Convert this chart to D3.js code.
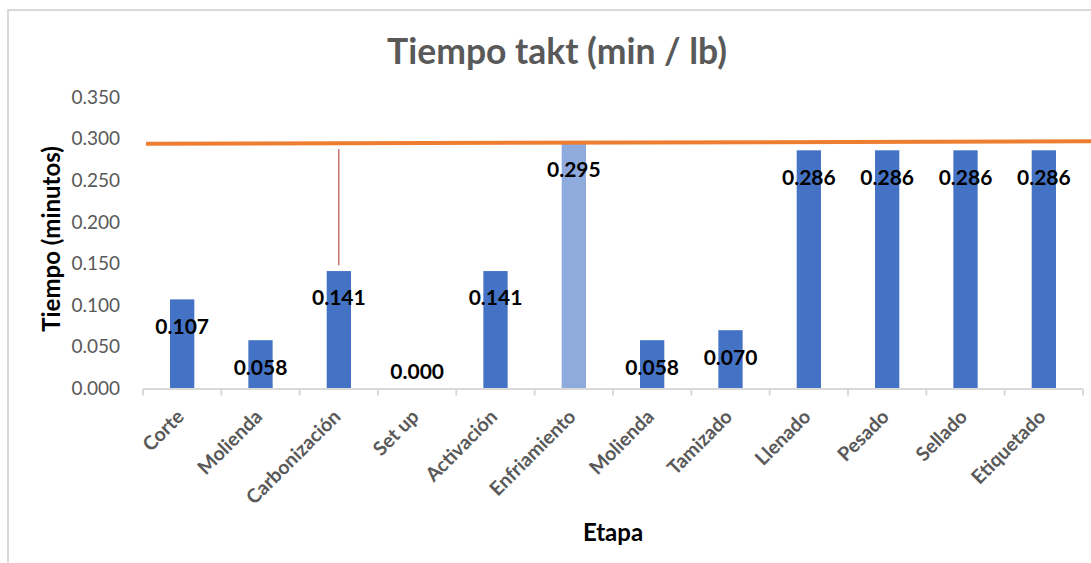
<!DOCTYPE html>
<html>
<head>
<meta charset="utf-8">
<script src="https://cdn.jsdelivr.net/npm/d3@7"></script>
<style>
  html, body { margin: 0; padding: 0; background: #ffffff; }
  svg { display: block; font-family: Lato, "Open Sans", sans-serif; }
</style>
</head>
<body>
<svg id="chart" width="1091" height="563"></svg>
<script>
// ---- data ----
const categories = ["Corte", "Molienda", "Carbonización", "Set up", "Activación", "Enfriamiento",
                    "Molienda", "Tamizado", "Llenado", "Pesado", "Sellado", "Etiquetado"];
const tiempos = [0.107, 0.058, 0.141, 0.000, 0.141, 0.295, 0.058, 0.070, 0.286, 0.286, 0.286, 0.286];
const yTicks = [0, 0.05, 0.10, 0.15, 0.20, 0.25, 0.30, 0.35];
const taktLine = [0.2938, 0.2968];          // takt line value at its left and right ends
const highlightIndex = 5;                    // Enfriamiento (bottleneck)
const markerIndex = 2;                       // thin vertical marker over Carbonización
const markerRange = [0.148, 0.2875];

const W = 1091, H = 563;
const svg = d3.select("#chart");

// frame
svg.append("path")
  .attr("d", `M8,${H} L8,10 L${W},10`)
  .attr("fill", "none").attr("stroke", "#d9d9d9").attr("stroke-width", 2);

const x = d3.scaleBand()
  .domain(d3.range(categories.length))
  .range([143, 1083])
  .paddingInner(0.69)
  .paddingOuter(0.345);

const y = d3.scaleLinear().domain([0, 0.35]).range([388.5, 97]);

// title
svg.append("text")
  .attr("x", 557).attr("y", 50)
  .attr("text-anchor", "middle").attr("dominant-baseline", "central")
  .attr("font-size", 35.5).attr("font-weight", 700).attr("fill", "#595959")
  .text("Tiempo takt (min / lb)");

// y axis labels
const yAxis = d3.axisLeft(y).tickValues(yTicks).tickFormat(d3.format(".3f")).tickSize(0).tickPadding(0);
const gy = svg.append("g").attr("transform", "translate(120,0)").call(yAxis);
gy.select(".domain").remove();
gy.selectAll("text").attr("font-size", 19).attr("fill", "#595959")
  .attr("font-family", "Lato, sans-serif");

// bars
svg.append("g").selectAll("rect")
  .data(tiempos)
  .join("rect")
  .attr("x", (d, i) => x(i))
  .attr("width", x.bandwidth())
  .attr("y", d => y(d))
  .attr("height", d => y(0) - y(d))
  .attr("fill", (d, i) => i === highlightIndex ? "#8faadc" : "#4472c4");

// x axis
const step = x.step();
const boundaries = d3.range(categories.length + 1).map(i => 143 + i * step);
const gx = svg.append("g");
gx.append("line")
  .attr("x1", 143).attr("x2", 1083).attr("y1", y(0) + 0.5).attr("y2", y(0) + 0.5)
  .attr("stroke", "#d9d9d9").attr("stroke-width", 2);
gx.selectAll("line.tick")
  .data(boundaries)
  .join("line").attr("class", "tick")
  .attr("x1", d => d).attr("x2", d => d)
  .attr("y1", y(0) + 0.5).attr("y2", y(0) + 7)
  .attr("stroke", "#d9d9d9").attr("stroke-width", 2);

gx.selectAll("text")
  .data(categories)
  .join("text")
  .attr("transform", (d, i) => `translate(${x(i) + x.bandwidth() / 2 + 3},418) rotate(-45)`)
  .attr("text-anchor", "end")
  .attr("font-size", 19.5).attr("font-weight", 700).attr("fill", "#595959")
  .text(d => d);

// takt line
const lx = d3.scaleLinear().domain([0, 1]).range([146, W]);
svg.append("path")
  .datum(taktLine)
  .attr("d", d3.line().x((d, i) => lx(i)).y(d => y(d)))
  .attr("stroke", "#ed7d31").attr("stroke-width", 4).attr("fill", "none");

// thin marker line
svg.append("line")
  .attr("x1", x(markerIndex) + x.bandwidth() / 2).attr("x2", x(markerIndex) + x.bandwidth() / 2)
  .attr("y1", y(markerRange[1])).attr("y2", y(markerRange[0]))
  .attr("stroke", "#a52a2a").attr("stroke-width", 1);

// data labels
svg.append("g").selectAll("text")
  .data(tiempos)
  .join("text")
  .attr("x", (d, i) => x(i) + x.bandwidth() / 2)
  .attr("y", d => Math.min(y(d) + 27, y(0) - 17))
  .attr("dy", "0.35em")
  .attr("text-anchor", "middle")
  .attr("font-size", 21).attr("font-weight", 700).attr("fill", "#000000")
  .text(d => d3.format(".3f")(d));

// axis titles
svg.append("text")
  .attr("transform", "translate(50,239) rotate(-90)")
  .attr("text-anchor", "middle").attr("dominant-baseline", "central")
  .attr("font-size", 24).attr("font-weight", 700).attr("fill", "#000000")
  .text("Tiempo (minutos)");

svg.append("text")
  .attr("x", 613).attr("y", 531)
  .attr("text-anchor", "middle").attr("dominant-baseline", "central")
  .attr("font-size", 24).attr("font-weight", 700).attr("fill", "#000000")
  .text("Etapa");
</script>
</body>
</html>
